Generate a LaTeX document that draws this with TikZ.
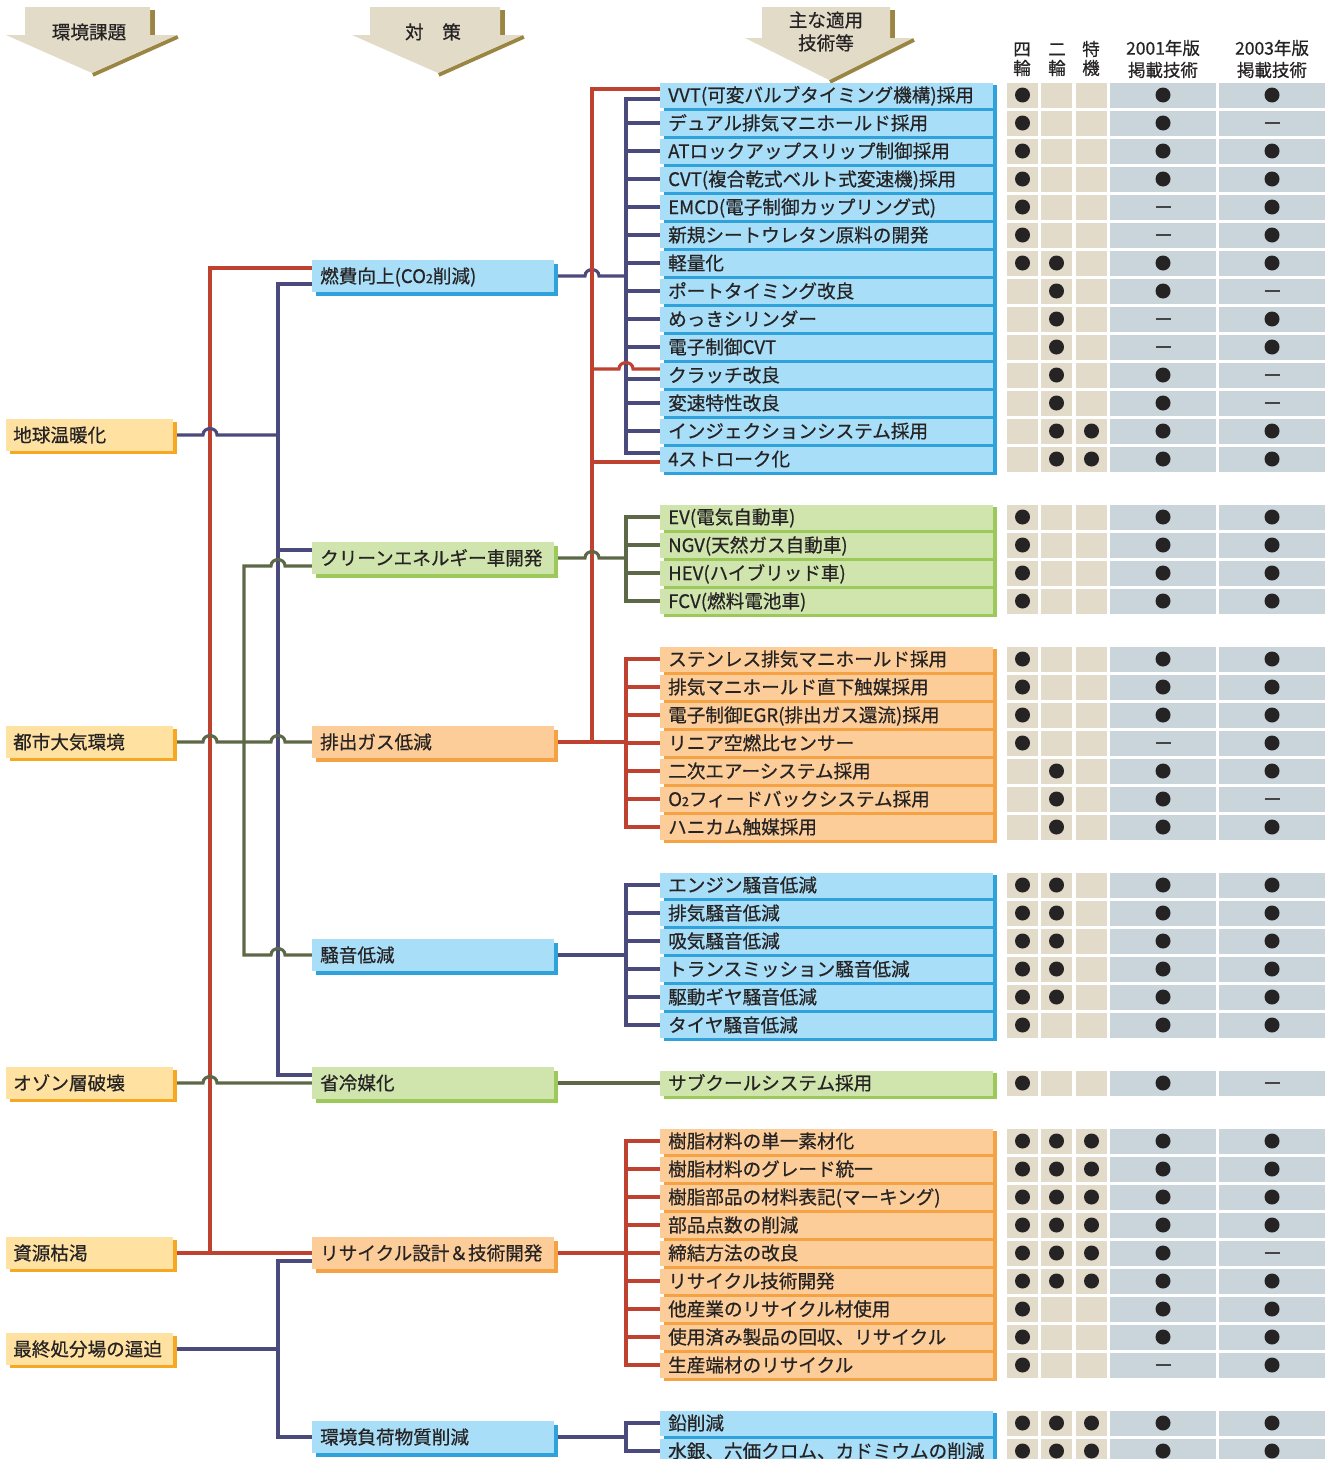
\documentclass[tikz,border=0pt]{standalone}
\usepackage{fontspec}
\setmainfont{Noto Sans CJK JP}[FakeBold=0.6]
\usetikzlibrary{shadows,backgrounds}

\definecolor{ink}{HTML}{262324}
\definecolor{issueF}{HTML}{FFE2A2}
\definecolor{issueS}{HTML}{F7A823}
\definecolor{blueF}{HTML}{A9DEF8}
\definecolor{blueS}{HTML}{2FA2DB}
\definecolor{greenF}{HTML}{D0E5AE}
\definecolor{greenS}{HTML}{9DC95B}
\definecolor{orngF}{HTML}{FDCD99}
\definecolor{orngS}{HTML}{F5A244}
\definecolor{arrowF}{HTML}{E2DBC8}
\definecolor{arrowS}{HTML}{9A8543}
\definecolor{cellA}{HTML}{E2DBC9}
\definecolor{cellB}{HTML}{C9D5DA}
\definecolor{redL}{HTML}{BF4130}
\definecolor{navyL}{HTML}{4B4A7C}
\definecolor{oliveL}{HTML}{5D6847}

\newcommand\lblfont{\fontsize{18.6}{22}\selectfont}
\newcommand\hdrfont{\fontsize{17.5}{21}\selectfont}
\newcommand\subtwo{{\fontsize{12.5}{12}\selectfont 2}}
% small bridge where a line jumps over a crossing line
\newcommand\hopover[2]{-- ({#1-7},#2) .. controls ({#1-7},{#2-8.5}) and ({#1+7},{#2-8.5}) .. ({#1+7},#2)}
\newcommand\hopback[2]{-- ({#1+7},#2) .. controls ({#1+7},{#2-8.5}) and ({#1-7},{#2-8.5}) .. ({#1-7},#2)}
% table mark: 1 = dot, 2 = dash, 0 = empty
\newcommand\cellmark[3]{%
  \ifnum#2=1 \fill[ink] (#1,#3) circle[radius=7.5];\fi
  \ifnum#2=2 \draw[ink!85,line width=1.4pt] ({#1-7.5},#3) -- ({#1+7.5},#3);\fi}

\begin{document}
\begin{tikzpicture}[x=1pt,y=-1pt,
  lbl/.style={text=ink, font=\lblfont, inner ysep=0pt, text height=16pt, text depth=2pt, align=left, anchor=west},
  issue/.style={lbl, fill=issueF, general shadow={fill=issueS, shadow xshift=4pt, shadow yshift=-3pt},
    minimum width=167pt, minimum height=32pt, inner xsep=7pt, text width=153pt},
  midbox/.style={lbl, minimum width=242pt, minimum height=32pt, inner xsep=8pt, text width=226pt},
  midblue/.style={midbox, fill=blueF, general shadow={fill=blueS, shadow xshift=4pt, shadow yshift=-4pt}},
  midgreen/.style={midbox, fill=greenF, general shadow={fill=greenS, shadow xshift=4pt, shadow yshift=-4pt}},
  midorange/.style={midbox, fill=orngF, general shadow={fill=orngS, shadow xshift=4pt, shadow yshift=-4pt}},
  rowbox/.style={lbl, minimum width=333pt, minimum height=25pt, inner xsep=8pt, text width=317pt},
  rowblue/.style={rowbox, fill=blueF},
  rowgreen/.style={rowbox, fill=greenF},
  roworange/.style={rowbox, fill=orngF},
  ln/.style={line width=3.1pt, line join=miter},
  rd/.style={ln, draw=redL},
  nv/.style={ln, draw=navyL},
  ol/.style={ln, draw=oliveL},
  hdr/.style={text=ink, font=\lblfont, inner sep=0pt, text height=16pt, text depth=2pt},
  thd/.style={hdr, font=\hdrfont, text height=15pt, text depth=1.8pt}
]
\useasboundingbox (0,0) rectangle (1331,1459);

% ---------- header arrows ----------
\fill[arrowS] (150,10) rectangle (155,35);
\fill[arrowS] (177,35) -- (92,73) -- (93.6,76.6) -- (178.6,38.6) -- cycle;
\fill[arrowF] (25,7) -- (150,7) -- (150,35) -- (177,35) -- (92,73) -- (6,35) -- (25,35) -- cycle;
\node[hdr] (hA) at (89,32) {環境課題};

\fill[arrowS] (500,10) rectangle (505,35);
\fill[arrowS] (523,35) -- (438,73) -- (439.6,76.6) -- (524.6,38.6) -- cycle;
\fill[arrowF] (370,7) -- (500,7) -- (500,35) -- (523,35) -- (438,73) -- (352,35) -- (370,35) -- cycle;
\node[hdr] (hB) at (433,32) {対　策};

\fill[arrowS] (890,10) rectangle (895,38);
\fill[arrowS] (913,38) -- (829,80) -- (830.8,83.6) -- (914.8,41.6) -- cycle;
\fill[arrowF] (762,7) -- (890,7) -- (890,38) -- (913,38) -- (829,80) -- (745,38) -- (762,38) -- cycle;
\node[hdr] (hC1) at (826,20) {主な適用};
\node[hdr] (hC2) at (826,43) {技術等};

% ---------- table header ----------
\node[thd] (t1a) at (1022,49) {四};
\node[thd] (t1b) at (1022,68) {輪};
\node[thd] (t2a) at (1057,49) {二};
\node[thd] (t2b) at (1057,68) {輪};
\node[thd] (t3a) at (1091,49) {特};
\node[thd] (t3b) at (1091,68) {機};
\node[thd] (t4a) at (1163,48) {2001年版};
\node[thd] (t4b) at (1163,70) {掲載技術};
\node[thd] (t5a) at (1272,48) {2003年版};
\node[thd] (t5b) at (1272,70) {掲載技術};

% ---------- environmental issues ----------
\node[issue] (g1) at (6,435) {地球温暖化};
\node[issue] (g2) at (6,742) {都市大気環境};
\node[issue] (g3) at (6,1083) {オゾン層破壊};
\node[issue] (g4) at (6,1253) {資源枯渇};
\node[issue] (g5) at (6,1349) {最終処分場の逼迫};

% ---------- measures ----------
\node[midblue] (m1) at (312,276) {燃費向上(CO\subtwo 削減)};
\node[midgreen] (m2) at (312,558) {クリーンエネルギー車開発};
\node[midorange] (m3) at (312,742) {排出ガス低減};
\node[midblue] (m4) at (312,955) {騒音低減};
\node[midgreen] (m5) at (312,1083) {省冷媒化};
\node[midorange] (m6) at (312,1253) {リサイクル設計＆技術開発};
\node[midblue] (m7) at (312,1437) {環境負荷物質削減};

% ---------- applied technologies ----------
\foreach \txt [count=\k] in {VVT(可変バルブタイミング機構)採用, デュアル排気マニホールド採用,
  ATロックアップスリップ制御採用, CVT(複合乾式ベルト式変速機)採用, EMCD(電子制御カップリング式),
  新規シートウレタン原料の開発, 軽量化, ポートタイミング改良, めっきシリンダー, 電子制御CVT,
  クラッチ改良, 変速特性改良, インジェクションシステム採用, 4ストローク化}
  \node[rowblue] (a\k) at (660,{95+28*(\k-1)}) {\txt};
\foreach \txt [count=\k] in {EV(電気自動車), NGV(天然ガス自動車), HEV(ハイブリッド車), FCV(燃料電池車)}
  \node[rowgreen] (b\k) at (660,{517+28*(\k-1)}) {\txt};
\foreach \txt [count=\k] in {ステンレス排気マニホールド採用, 排気マニホールド直下触媒採用,
  電子制御EGR(排出ガス還流)採用, リニア空燃比センサー, 二次エアーシステム採用,
  O\subtwo フィードバックシステム採用, ハニカム触媒採用}
  \node[roworange] (c\k) at (660,{659+28*(\k-1)}) {\txt};
\foreach \txt [count=\k] in {エンジン騒音低減, 排気騒音低減, 吸気騒音低減, トランスミッション騒音低減,
  駆動ギヤ騒音低減, タイヤ騒音低減}
  \node[rowblue] (d\k) at (660,{885+28*(\k-1)}) {\txt};
\node[rowgreen] (e1) at (660,1083) {サブクールシステム採用};
\foreach \txt [count=\k] in {樹脂材料の単一素材化, 樹脂材料のグレード統一, 樹脂部品の材料表記(マーキング),
  部品点数の削減, 締結方法の改良, リサイクル技術開発, 他産業のリサイクル材使用,
  使用済み製品の回収、リサイクル, 生産端材のリサイクル}
  \node[roworange] (f\k) at (660,{1141+28*(\k-1)}) {\txt};
\foreach \txt [count=\k] in {鉛削減, 水銀、六価クロム、カドミウムの削減}
  \node[rowblue] (h\k) at (660,{1423+28*(\k-1)}) {\txt};

% ---------- table cells ----------
\foreach \yy/\va/\vb/\vc/\vd/\ve in {
  95/1/0/0/1/1, 123/1/0/0/1/2, 151/1/0/0/1/1, 179/1/0/0/1/1, 207/1/0/0/2/1, 235/1/0/0/2/1,
  263/1/1/0/1/1, 291/0/1/0/1/2, 319/0/1/0/2/1, 347/0/1/0/2/1, 375/0/1/0/1/2, 403/0/1/0/1/2,
  431/0/1/1/1/1, 459/0/1/1/1/1,
  517/1/0/0/1/1, 545/1/0/0/1/1, 573/1/0/0/1/1, 601/1/0/0/1/1,
  659/1/0/0/1/1, 687/1/0/0/1/1, 715/1/0/0/1/1, 743/1/0/0/2/1, 771/0/1/0/1/1, 799/0/1/0/1/2, 827/0/1/0/1/1,
  885/1/1/0/1/1, 913/1/1/0/1/1, 941/1/1/0/1/1, 969/1/1/0/1/1, 997/1/1/0/1/1, 1025/1/0/0/1/1,
  1083/1/0/0/1/2,
  1141/1/1/1/1/1, 1169/1/1/1/1/1, 1197/1/1/1/1/1, 1225/1/1/1/1/1, 1253/1/1/1/1/2, 1281/1/1/1/1/1,
  1309/1/0/0/1/1, 1337/1/0/0/1/1, 1365/1/0/0/2/1,
  1423/1/1/1/1/1, 1451/1/1/1/1/1} {
  \fill[cellA] (1007,{\yy-12.5}) rectangle (1038,{\yy+12.5});
  \fill[cellA] (1041,{\yy-12.5}) rectangle (1072,{\yy+12.5});
  \fill[cellA] (1076,{\yy-12.5}) rectangle (1107,{\yy+12.5});
  \fill[cellB] (1110,{\yy-12.5}) rectangle (1216,{\yy+12.5});
  \fill[cellB] (1219,{\yy-12.5}) rectangle (1325,{\yy+12.5});
  \cellmark{1022.5}{\va}{\yy}
  \cellmark{1056.5}{\vb}{\yy}
  \cellmark{1091.5}{\vc}{\yy}
  \cellmark{1163}{\vd}{\yy}
  \cellmark{1272}{\ve}{\yy}
}

% ---------- background: group shadows and connectors ----------
\begin{scope}[on background layer]
  \fill[white] (0,0) rectangle (1331,1459);
  \fill[blueS]  ([shift={(4,3)}]a1.north west) rectangle ([shift={(4,3)}]a14.south east);
  \fill[greenS] ([shift={(4,3)}]b1.north west) rectangle ([shift={(4,3)}]b4.south east);
  \fill[orngS]  ([shift={(4,3)}]c1.north west) rectangle ([shift={(4,3)}]c7.south east);
  \fill[blueS]  ([shift={(4,3)}]d1.north west) rectangle ([shift={(4,3)}]d6.south east);
  \fill[greenS] ([shift={(4,3)}]e1.north west) rectangle ([shift={(4,3)}]e1.south east);
  \fill[orngS]  ([shift={(4,3)}]f1.north west) rectangle ([shift={(4,3)}]f9.south east);
  \fill[blueS]  ([shift={(4,3)}]h1.north west) rectangle ([shift={(4,3)}]h2.south east);

  \coordinate (xa) at (626,0);
  \coordinate (xb) at (592,0);

  % issues -> measures
  \draw[rd] (g4.east) -- (m6.west);
  \draw[rd] (210,1253) -- (210,268) -- ([yshift=8pt]m1.west);
  \draw[nv] (g1.east) \hopover{210}{435} -- (278,435);
  \draw[nv] ([yshift=-8pt]m1.west) -- (278,284) -- (278,1075) -- ([yshift=8pt]m5.west);
  \draw[nv] (278,550) -- ([yshift=8pt]m2.west);
  \draw[ol] (g2.east) \hopover{210}{742} \hopover{278}{742} -- (m3.west);
  \draw[ol] (m4.west) \hopback{278}{955} -- (244,955) -- (244,566) \hopover{278}{566} -- ([yshift=-8pt]m2.west);
  \draw[ol] (g3.east) \hopover{210}{1083} -- (m5.west);
  \draw[nv] (g5.east) -- (278,1349);
  \draw[nv] ([yshift=-8pt]m6.west) -- (278,1261) -- (278,1437) -- (m7.west);

  % fuel economy group
  \coordinate (a1r) at ([yshift=6pt]a1.west);
  \coordinate (a1n) at ([yshift=-4pt]a1.west);
  \coordinate (a11r) at ([yshift=6pt]a11.west);
  \coordinate (a11n) at ([yshift=-4pt]a11.west);
  \coordinate (a14n) at ([yshift=6pt]a14.west);
  \coordinate (a14r) at ([yshift=-3pt]a14.west);
  \draw[nv] (m1.east) \hopover{592}{276} -- (m1.east -| xa);
  \draw[nv] (a1n) -- (a1n -| xa) -- (a14n -| xa) -- (a14n);
  \foreach \k in {2,3,4,5,6,7,8,9,10,12,13} \draw[nv] (a\k.west -| xa) -- (a\k.west);
  \draw[nv] (a11n -| xa) -- (a11n);

  % exhaust gas group and its links upward
  \draw[rd] (m3.east) -- (m3.east -| xa);
  \draw[rd] (m3.east -| xb) -- (a1r -| xb) -- (a1r);
  \draw[rd] (a11r -| xb) \hopover{626}{369} -- (a11r);
  \draw[rd] (a14r -| xb) -- (a14r);
  \draw[rd] (c1.west) -- (c1.west -| xa) -- (c7.west -| xa) -- (c7.west);
  \foreach \k in {2,...,6} \draw[rd] (c\k.west -| xa) -- (c\k.west);

  % clean energy vehicles
  \draw[ol] (m2.east) \hopover{592}{558} -- (m2.east -| xa);
  \draw[ol] (b1.west) -- (b1.west -| xa) -- (b4.west -| xa) -- (b4.west);
  \foreach \k in {2,3} \draw[ol] (b\k.west -| xa) -- (b\k.west);

  % noise
  \draw[nv] (m4.east) -- (m4.east -| xa);
  \draw[nv] (d1.west) -- (d1.west -| xa) -- (d6.west -| xa) -- (d6.west);
  \foreach \k in {2,...,5} \draw[nv] (d\k.west -| xa) -- (d\k.west);

  % refrigerant
  \draw[ol] (m5.east) -- (e1.west);

  % recycling
  \draw[rd] (m6.east) -- (m6.east -| xa);
  \draw[rd] (f1.west) -- (f1.west -| xa) -- (f9.west -| xa) -- (f9.west);
  \foreach \k in {2,...,8} \draw[rd] (f\k.west -| xa) -- (f\k.west);

  % hazardous substances
  \draw[nv] (m7.east) -- (m7.east -| xa);
  \draw[nv] (h1.west) -- (h1.west -| xa) -- (h2.west -| xa) -- (h2.west);
\end{scope}
\end{tikzpicture}
\end{document}
